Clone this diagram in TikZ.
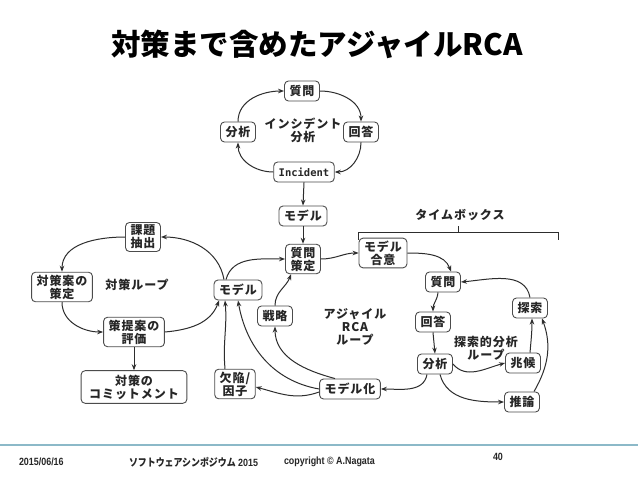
\documentclass[tikz,border=0pt]{standalone}
\usepackage{fontspec}
\setmainfont{Liberation Sans}
\newfontfamily\jfont{Noto Sans CJK JP}
\newfontfamily\jboxfont{Noto Sans CJK JP}[LetterSpace=8]
\newfontfamily\monofont{DejaVu Sans Mono}
\usetikzlibrary{arrows.meta,calc}

\definecolor{lineclr}{RGB}{45,45,45}
\definecolor{footline}{RGB}{140,185,200}

\begin{document}
\begin{tikzpicture}[x=1pt,y=1pt,
    box/.style={draw=black!70,line width=0.9pt,rounded corners=4pt,fill=white,align=center,
      inner xsep=5pt,inner ysep=2.5pt,minimum height=20pt,text=black!85,
      font=\jboxfont\bfseries\fontsize{12}{13}\selectfont},
    looplabel/.style={align=center,text=black!85,font=\jboxfont\bfseries\fontsize{12}{13}\selectfont},
    link/.style={draw=lineclr,line width=1pt,-{Stealth[length=6pt,width=4.5pt]}},
    foot/.style={anchor=west,text=black!85,xscale=0.85,transform shape,
      font=\bfseries\fontsize{10.5}{12}\selectfont}]
\useasboundingbox (0,0) rectangle (638,-479);
\fill[white] (0,0) rectangle (638,-479);

% title
\node[font=\jfont\bfseries\fontsize{29.5}{31}\selectfont] (title) at (317,-44) {対策まで含めたアジャイルRCA};

% incident loop
\node[box] (q1) at (302,-91) {質問};
\node[box] (a1) at (238,-132) {分析};
\node[box] (r1) at (361,-132) {回答};
\node[box,font=\monofont\bfseries\fontsize{10.5}{12}\selectfont] (inc) at (304,-172) {Incident};
\node[looplabel] (lab1) at (303,-130) {インシデント\\分析};
\draw[link] (a1.north) to[out=90,in=180] (q1.west);
\draw[link] (q1.east) to[out=0,in=90] (r1.north);
\draw[link] (r1.south) to[out=-90,in=0] (inc.east);
\draw[link] (inc.west) to[out=180,in=-90] (a1.south);

% agile RCA loop
\node[box] (m1) at (303,-216) {モデル};
\node[box] (qs) at (303,-259) {質問\\策定};
\node[box] (ml) at (238,-290) {モデル};
\node[box] (st) at (275,-316) {戦略};
\node[looplabel] (lab2) at (355,-327) {アジャイル\\RCA\\ループ};
\node[box] (kf) at (235,-384) {欠陥/\\因子};
\node[box] (mk) at (350,-389) {モデル化};
\draw[link] (inc.south) -- (m1.north);
\draw[link] (m1.south) -- (qs.north);
\draw[link] ([xshift=-12pt]ml.north) to[out=75,in=180] (qs.west);
\draw[link] (st.north) to[out=90,in=-110] ([xshift=-12pt]qs.south);
\draw[link] ([xshift=-15pt]mk.north) to[out=165,in=-90] (st.south);
\draw[link] (mk.west) to[out=170,in=-80] (ml.south);
\draw[link] ([xshift=-10pt]kf.north) to[out=95,in=-85] ([xshift=-13pt]ml.south);
\draw[link] ([yshift=-3pt]mk.west) to[out=200,in=-15] ([yshift=-3pt]kf.east);

% countermeasure loop
\node[box] (kd) at (143,-237) {課題\\抽出};
\node[box] (ts) at (62,-287) {対策案の\\策定};
\node[looplabel] (lab3) at (137,-285) {対策ループ};
\node[box] (hy) at (134,-332) {策提案の\\評価};
\node[box,inner xsep=8pt,inner ysep=4pt] (cm) at (134,-387) {対策の\\コミットメント};
\draw[link] ([xshift=-14pt]ml.north) to[out=100,in=0] (kd.east);
\draw[link] (kd.west) to[out=180,in=90] (ts.north);
\draw[link] (ts.south) to[out=-90,in=180] (hy.west);
\draw[link] (hy.east) to[out=5,in=-110] ([xshift=-19pt]ml.south);
\draw[link] (hy.south) -- (cm.north);

% timebox
\node[looplabel] (tb) at (460,-215) {タイムボックス};
\draw[lineclr,line width=0.8pt] (358,-240) -- (358,-232) -- (558,-232) -- (558,-240);
\draw[lineclr,line width=0.8pt] (458,-232) -- (458,-226);

% exploratory analysis loop
\node[box] (ma) at (383,-253) {モデル\\合意};
\node[box] (q2) at (443,-282) {質問};
\node[box] (r2) at (433,-322) {回答};
\node[box] (a2) at (435,-364) {分析};
\node[box] (sk) at (530,-308) {探索};
\node[box] (ck) at (523,-363) {兆候};
\node[box] (sr) at (522,-402) {推論};
\node[looplabel] (lab4) at (486,-348) {探索的分析\\ループ};
\draw[link] (qs.east) to[out=0,in=180] (ma.west);
\draw[link] (ma.east) to[out=0,in=110] ([xshift=8pt]q2.north);
\draw[link] ([xshift=-5pt]q2.south) to[out=-95,in=90] (r2.north);
\draw[link] (r2.south) -- (a2.north);
\draw[link] ([xshift=-8pt]a2.south) to[out=-100,in=0] (mk.east);
\draw[link] (a2.east) to[out=-50,in=195] (ck.west);
\draw[link] ([xshift=5pt]a2.south) to[out=-75,in=180] (sr.west);
\draw[link] ([xshift=7pt]ck.north) to[out=85,in=-90] ([xshift=2pt]sk.south);
\draw[link] ([xshift=12pt]sr.north) to[out=60,in=-70] ([xshift=12pt]sk.south);
\draw[link] (sk.north) to[out=100,in=5] (q2.east);

% footer
\draw[footline,line width=1.6pt] (0,-445) -- (638,-445);
\node[foot] (date) at (16,-462) {2015/06/16};
\node[foot] (conf) at (126,-462) {{\jfont ソフトウェアシンポジウム} 2015};
\node[foot] (copy) at (281,-462) {copyright © A.Nagata};
\node[foot] (page) at (490,-457) {40};
\end{tikzpicture}
\end{document}
